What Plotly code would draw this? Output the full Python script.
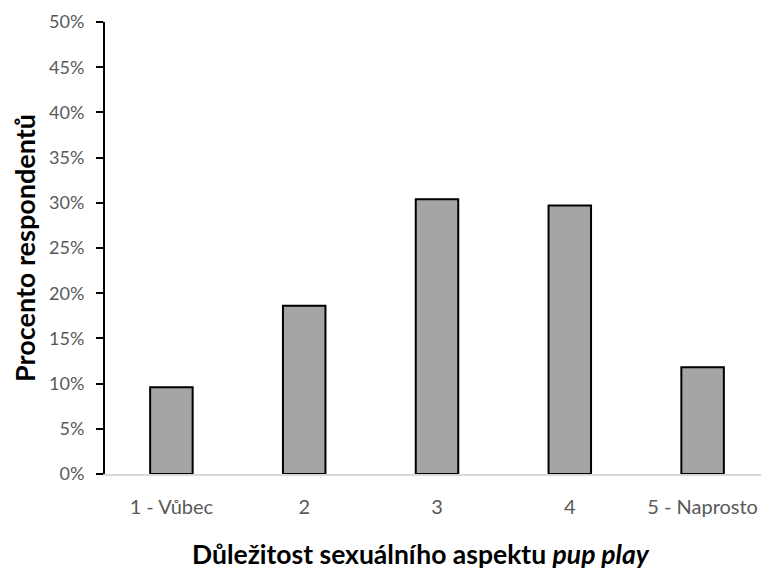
import plotly.graph_objects as go

categories = ["1 - Vůbec", "2", "3", "4", "5 - Naprosto"]
values = [9.6, 18.6, 30.4, 29.7, 11.8]
tick_vals = [0, 5, 10, 15, 20, 25, 30, 35, 40, 45, 50]
tick_text = [f"{v}%" for v in tick_vals]

fig = go.Figure(go.Bar(
    x=categories,
    y=values,
    width=0.32,
    marker=dict(color="#A5A5A5", line=dict(color="black", width=2)),
))

# page body has an 8px margin, so the figure is shrunk and shifted to fit
fig.update_layout(
    width=761, height=566,
    margin=dict(l=97, r=0, t=14, b=100),
    plot_bgcolor="white", paper_bgcolor="white",
    font=dict(family="Lato, sans-serif", size=20, color="#595959"),
    showlegend=False,
)

fig.update_xaxes(
    automargin=False,
    showline=True, linecolor="#D9D9D9", linewidth=1.5,
    ticks="", tickfont=dict(size=20, color="#595959"),
    ticklabelstandoff=14,
)

fig.update_yaxes(
    automargin=False,
    range=[0, 50], tickvals=tick_vals, ticktext=tick_text,
    showline=True, linecolor="black", linewidth=2,
    ticks="outside", ticklen=7, tickcolor="black", tickwidth=2,
    ticklabelstandoff=8,
    showgrid=False, zeroline=False,
    tickfont=dict(size=18, color="#595959"),
    title=dict(text="<b>Procento respondentů</b>",
               font=dict(size=27, color="black"), standoff=6),
)

# x title sits a bit left of the plot centre in the original
fig.add_annotation(
    text="<b>Důležitost sexuálního aspektu <i>pup play</i></b>",
    xref="paper", yref="paper", x=0.476, y=-0.178,
    xanchor="center", yanchor="middle", showarrow=False,
    font=dict(size=26.5, color="black"),
)

fig.write_html("out.html")
